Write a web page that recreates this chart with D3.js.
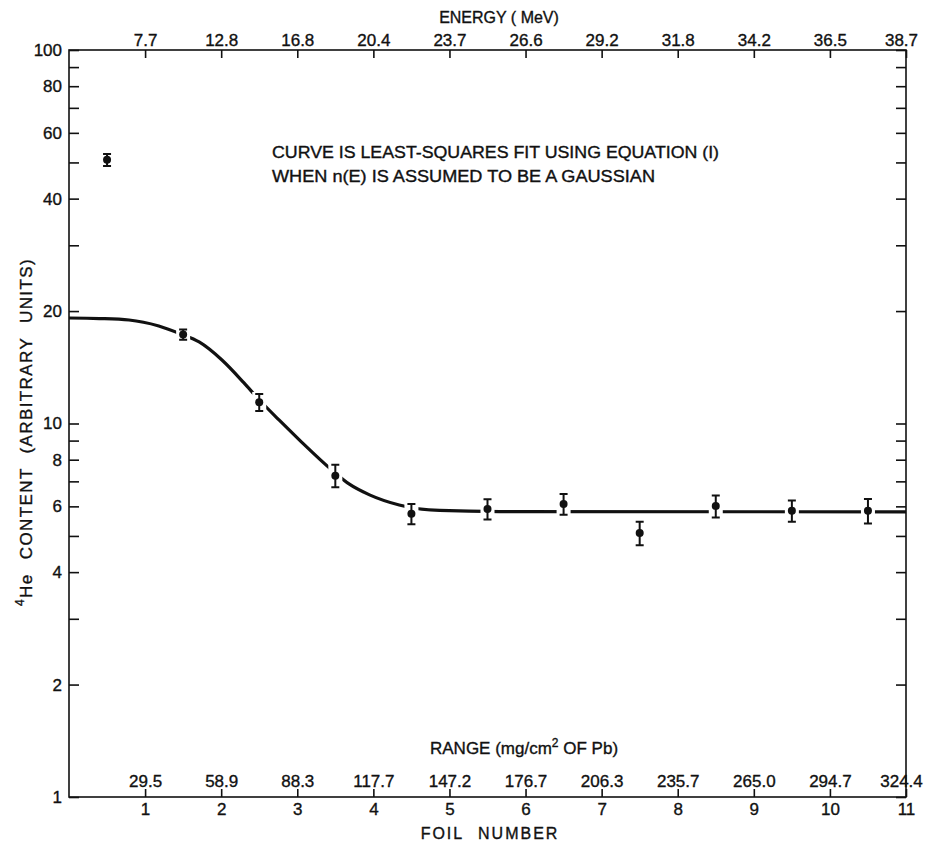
<!DOCTYPE html>
<html>
<head>
<meta charset="utf-8">
<script src="https://cdn.jsdelivr.net/npm/d3@7"></script>
<style>
  body { margin: 0; background: #fff; }
  svg { display: block; }
  text { font-family: "Liberation Sans", Arial, sans-serif; fill: #111; stroke: #111; stroke-width: 0.35px; }
</style>
</head>
<body>
<svg id="chart" width="925" height="844"></svg>
<script>
// Foil positions (centre of each foil) and measured 4He content
const foilCentres = [0.5, 1.5, 2.5, 3.5, 4.5, 5.5, 6.5, 7.5, 8.5, 9.5, 10.5];
const heContent = [50.8, 17.3, 11.4, 7.25, 5.73, 5.90, 6.09, 5.09, 6.01, 5.84, 5.84];
const heError = [1.9, 0.55, 0.6, 0.5, 0.36, 0.37, 0.39, 0.37, 0.41, 0.38, 0.44];

// Least-squares fit curve
const fitFoil = [0, 0.4, 0.79, 1.18, 1.47, 1.71, 2.01, 2.30, 2.49, 2.76, 3.03, 3.47, 3.68, 3.95, 4.34, 4.87, 5.66, 11];
const fitValue = [19.16, 19.10, 18.93, 18.24, 17.36, 16.53, 14.79, 12.84, 11.63, 10.22, 9.03, 7.46, 6.89, 6.44, 6.05, 5.85, 5.81, 5.80];

// Axis ticks and labels
const foilTicks = [1, 2, 3, 4, 5, 6, 7, 8, 9, 10, 11];
const energyLabels = ['7.7', '12.8', '16.8', '20.4', '23.7', '26.6', '29.2', '31.8', '34.2', '36.5', '38.7'];
const rangeLabels = ['29.5', '58.9', '88.3', '117.7', '147.2', '176.7', '206.3', '235.7', '265.0', '294.7', '324.4'];
const yMajor = [1, 2, 4, 6, 8, 10, 20, 40, 60, 80, 100];
const yMinor = [3, 5, 7, 9, 30, 50, 70, 90];

const svg = d3.select('#chart');
const plotLeft = 69, plotRight = 906, plotTop = 50, plotBottom = 797;

const x = d3.scaleLinear().domain([0, 11]).range([plotLeft, plotRight]);
const y = d3.scaleLog().domain([1, 100]).range([plotBottom, plotTop]);

// Frame
svg.append('rect')
  .attr('x', plotLeft).attr('y', plotTop)
  .attr('width', plotRight - plotLeft).attr('height', plotBottom - plotTop)
  .attr('fill', 'none').attr('stroke', '#111').attr('stroke-width', 1.6);

// Style an axis group: plain black lines, our font
function styleAxis(g, size) {
  g.select('.domain').remove();
  g.selectAll('line').attr('stroke', '#111').attr('stroke-width', 1.6);
  g.selectAll('text').attr('font-size', size || 17)
    .attr('font-family', '"Liberation Sans", Arial, sans-serif').attr('fill', '#111');
}

// The last label sits at the right corner; nudge it in a little
function nudgeLast(g) {
  g.selectAll('.tick text').filter(d => d === 11).attr('dx', -5);
}

// Left axis: major ticks with labels, minor ticks without
svg.append('g').attr('transform', `translate(${plotLeft},0)`)
  .call(d3.axisLeft(y).tickValues(yMajor).tickSize(-10).tickPadding(7).tickFormat(d3.format('d')))
  .call(g => styleAxis(g, 17));
svg.append('g').attr('transform', `translate(${plotLeft},0)`)
  .call(d3.axisLeft(y).tickValues(yMinor).tickSize(-10).tickFormat(''))
  .call(g => styleAxis(g));

// Right axis mirrors the ticks
svg.append('g').attr('transform', `translate(${plotRight},0)`)
  .call(d3.axisRight(y).tickValues(yMajor.concat(yMinor)).tickSize(-10).tickFormat(''))
  .call(g => styleAxis(g));

// Top axis: energy
svg.append('g').attr('transform', `translate(0,${plotTop})`)
  .call(d3.axisTop(x).tickValues(foilTicks).tickSize(-8).tickPadding(4)
    .tickFormat((d, i) => energyLabels[i]))
  .call(g => styleAxis(g))
  .call(nudgeLast);

// Bottom axis: foil number below, range labels inside the plot
svg.append('g').attr('transform', `translate(0,${plotBottom})`)
  .call(d3.axisBottom(x).tickValues(foilTicks).tickSize(-8).tickPadding(6))
  .call(g => styleAxis(g, 17));
svg.append('g').attr('transform', `translate(0,${plotBottom})`)
  .call(d3.axisTop(x).tickValues(foilTicks).tickSize(0).tickPadding(10)
    .tickFormat((d, i) => rangeLabels[i]))
  .call(g => styleAxis(g))
  .call(nudgeLast);

// Axis titles
svg.append('text').attr('x', 499).attr('y', 23).attr('text-anchor', 'middle')
  .attr('font-size', 16).text('ENERGY ( MeV)');
svg.append('text').attr('x', 490).attr('y', 839).attr('text-anchor', 'middle')
  .attr('font-size', 16).attr('letter-spacing', 2).attr('word-spacing', 8).text('FOIL NUMBER');

const rangeTitle = svg.append('text').attr('x', 430).attr('y', 754).attr('font-size', 17);
rangeTitle.append('tspan').text('RANGE  (mg/cm');
rangeTitle.append('tspan').attr('dy', -7).attr('font-size', 12).text('2');
rangeTitle.append('tspan').attr('dy', 7).text(' OF Pb)');

const yTitle = svg.append('text')
  .attr('transform', 'translate(32,432) rotate(-90)')
  .attr('text-anchor', 'middle').attr('font-size', 17)
  .attr('letter-spacing', 1.4).attr('word-spacing', 8);
yTitle.append('tspan').attr('font-size', 12).attr('dy', -8).text('4');
yTitle.append('tspan').attr('dy', 8).text('He CONTENT (ARBITRARY UNITS)');

// Annotation
svg.append('text').attr('x', 272).attr('y', 158).attr('font-size', 16)
  .attr('textLength', 447).attr('lengthAdjust', 'spacingAndGlyphs')
  .text('CURVE IS LEAST-SQUARES FIT USING EQUATION (I)');
svg.append('text').attr('x', 272).attr('y', 182).attr('font-size', 16)
  .attr('textLength', 383).attr('lengthAdjust', 'spacingAndGlyphs')
  .text('WHEN n(E) IS ASSUMED TO BE A GAUSSIAN');

// Fit curve
const line = d3.line()
  .x((d, i) => x(fitFoil[i]))
  .y(d => y(d))
  .curve(d3.curveMonotoneX);
svg.append('path')
  .datum(fitValue)
  .attr('d', line)
  .attr('fill', 'none').attr('stroke', '#111').attr('stroke-width', 3.2);

// Data points with error bars; a white backing opens a gap in the curve
const points = svg.append('g').selectAll('g')
  .data(heContent)
  .join('g');

points.append('rect')
  .attr('x', (d, i) => x(foilCentres[i]) - 7)
  .attr('y', (d, i) => y(d + heError[i]) - 2)
  .attr('width', 14)
  .attr('height', (d, i) => y(d - heError[i]) - y(d + heError[i]) + 4)
  .attr('fill', '#fff');

points.append('path')
  .attr('d', (d, i) => {
    const cx = x(foilCentres[i]);
    const y1 = y(d + heError[i]), y2 = y(d - heError[i]);
    return `M${cx},${y1}V${y2}M${cx - 4},${y1}H${cx + 4}M${cx - 4},${y2}H${cx + 4}`;
  })
  .attr('fill', 'none').attr('stroke', '#111').attr('stroke-width', 2);

points.append('circle')
  .attr('cx', (d, i) => x(foilCentres[i]))
  .attr('cy', d => y(d))
  .attr('r', 4)
  .attr('fill', '#111');
</script>
</body>
</html>
